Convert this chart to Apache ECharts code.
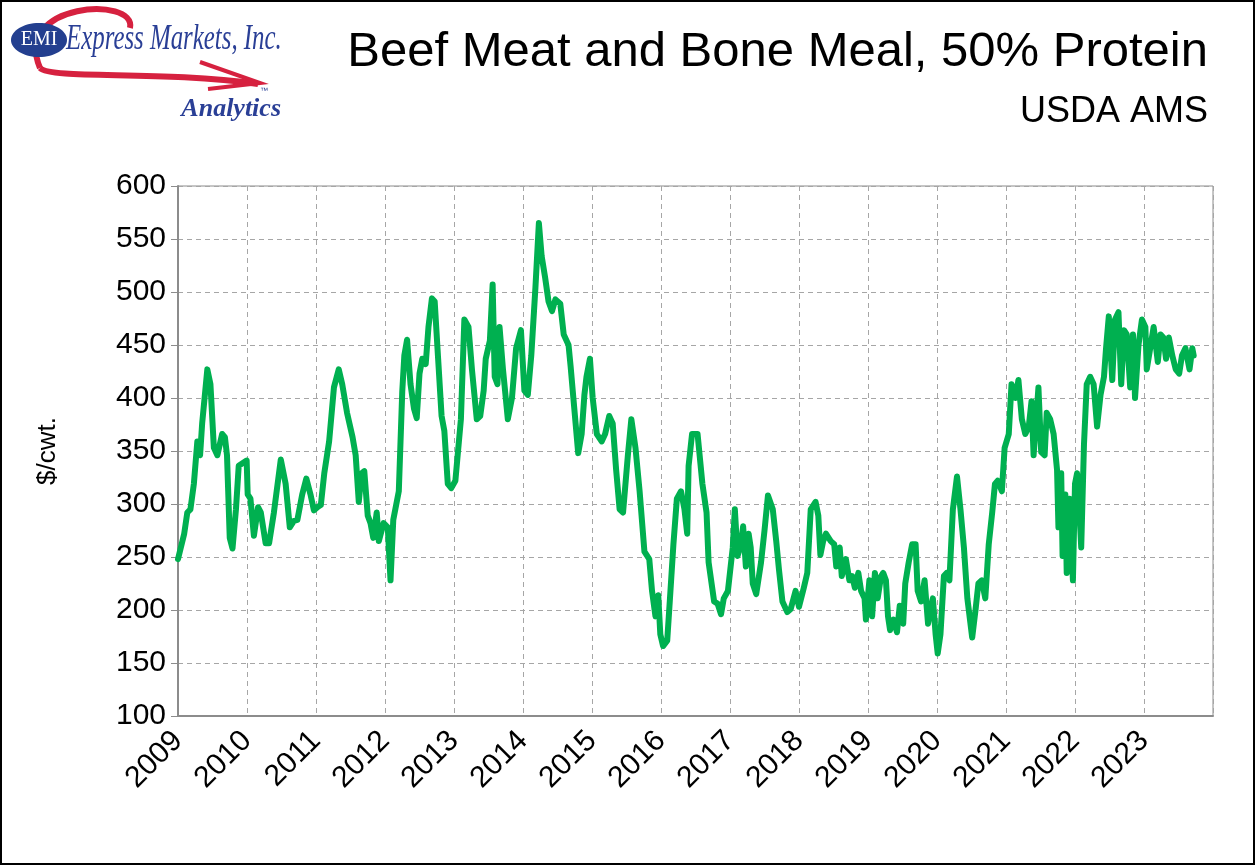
<!DOCTYPE html>
<html>
<head>
<meta charset="utf-8">
<title>Beef Meat and Bone Meal, 50% Protein</title>
<script src="https://cdn.jsdelivr.net/npm/echarts@6/dist/echarts.min.js"></script>
<style>
    html, body { margin: 0; padding: 0; background: #fff; }
    #main { width: 1255px; height: 865px; box-sizing: border-box; border: 2px solid #000; }
</style>
</head>
<body>
<div id="main"></div>
<script type="text/javascript">
    // weekly price, as decimal year
    var dates = [
        2009.00, 2009.09, 2009.135, 2009.18, 2009.23, 2009.28, 2009.32, 2009.35, 2009.425, 2009.47,
        2009.52, 2009.57, 2009.64, 2009.68, 2009.71, 2009.75, 2009.79, 2009.84, 2009.88, 2009.995,
        2010.01, 2010.05, 2010.10, 2010.16, 2010.20, 2010.27, 2010.32, 2010.39, 2010.49, 2010.56,
        2010.62, 2010.68, 2010.73, 2010.80, 2010.86, 2010.92, 2010.97, 2011.02, 2011.07, 2011.12,
        2011.19, 2011.26, 2011.33, 2011.38, 2011.45, 2011.53, 2011.575, 2011.62, 2011.66, 2011.70,
        2011.75, 2011.79, 2011.83, 2011.88, 2011.91, 2011.98, 2012.04, 2012.08, 2012.12, 2012.20,
        2012.25, 2012.28, 2012.32, 2012.37, 2012.42, 2012.46, 2012.50, 2012.54, 2012.59, 2012.63,
        2012.68, 2012.72, 2012.77, 2012.82, 2012.86, 2012.91, 2012.96, 2013.02, 2013.10, 2013.15,
        2013.21, 2013.26, 2013.33, 2013.38, 2013.43, 2013.46, 2013.52, 2013.56, 2013.59, 2013.63,
        2013.66, 2013.71, 2013.78, 2013.84, 2013.90, 2013.97, 2014.02, 2014.07, 2014.12, 2014.18,
        2014.23, 2014.27, 2014.32, 2014.37, 2014.42, 2014.47, 2014.54, 2014.59, 2014.66, 2014.69,
        2014.73, 2014.80, 2014.85, 2014.89, 2014.92, 2014.97, 2015.01, 2015.07, 2015.14, 2015.19,
        2015.25, 2015.30, 2015.35, 2015.40, 2015.45, 2015.52, 2015.57, 2015.63, 2015.69, 2015.76,
        2015.83, 2015.87, 2015.92, 2015.96, 2015.99, 2016.03, 2016.09, 2016.13, 2016.18, 2016.23,
        2016.29, 2016.34, 2016.38, 2016.40, 2016.45, 2016.53, 2016.60, 2016.66, 2016.69, 2016.77,
        2016.82, 2016.87, 2016.91, 2016.97, 2017.04, 2017.07, 2017.11, 2017.16, 2017.19, 2017.23,
        2017.27, 2017.30, 2017.33, 2017.38, 2017.45, 2017.50, 2017.55, 2017.62, 2017.67, 2017.71,
        2017.76, 2017.83, 2017.88, 2017.95, 2018.00, 2018.07, 2018.12, 2018.17, 2018.24, 2018.28,
        2018.31, 2018.35, 2018.39, 2018.46, 2018.51, 2018.54, 2018.59, 2018.62, 2018.68, 2018.73,
        2018.77, 2018.81, 2018.86, 2018.90, 2018.95, 2018.97, 2019.02, 2019.06, 2019.10, 2019.14,
        2019.19, 2019.22, 2019.26, 2019.29, 2019.32, 2019.37, 2019.42, 2019.46, 2019.51, 2019.54,
        2019.59, 2019.64, 2019.69, 2019.72, 2019.77, 2019.82, 2019.87, 2019.90, 2019.94, 2019.98,
        2020.01, 2020.05, 2020.10, 2020.14, 2020.18, 2020.23, 2020.29, 2020.34, 2020.39, 2020.44,
        2020.51, 2020.56, 2020.60, 2020.65, 2020.70, 2020.75, 2020.80, 2020.84, 2020.88, 2020.94,
        2020.98, 2021.04, 2021.08, 2021.14, 2021.18, 2021.23, 2021.28, 2021.33, 2021.37, 2021.40,
        2021.43, 2021.47, 2021.51, 2021.56, 2021.59, 2021.64, 2021.69, 2021.74, 2021.76, 2021.80,
        2021.82, 2021.86, 2021.88, 2021.92, 2021.97, 2022.00, 2022.03, 2022.06, 2022.09, 2022.13,
        2022.17, 2022.22, 2022.27, 2022.32, 2022.37, 2022.42, 2022.45, 2022.49, 2022.54, 2022.58,
        2022.63, 2022.67, 2022.71, 2022.75, 2022.80, 2022.84, 2022.87, 2022.92, 2022.97, 2023.02,
        2023.04, 2023.09, 2023.14, 2023.20, 2023.24, 2023.28, 2023.32, 2023.36, 2023.41, 2023.46,
        2023.51, 2023.55, 2023.60, 2023.66, 2023.70, 2023.72
    ];
    var prices = [
        248, 272, 292, 295, 319, 359, 346, 376, 427, 413,
        353, 346, 366, 363, 346, 268, 258, 295, 336, 341,
        309, 305, 270, 297, 292, 263, 263, 292, 342, 319,
        278, 284, 285, 309, 324, 309, 294, 297, 299, 329,
        359, 410, 427, 413, 386, 363, 346, 302, 329, 331,
        289, 282, 268, 292, 265, 282, 278, 228, 285, 312,
        406, 440, 455, 413, 390, 381, 423, 437, 432, 467,
        494, 491, 437, 383, 369, 319, 315, 322, 380, 474,
        467, 427, 380, 383, 407, 437, 454, 507, 420, 413,
        467, 427, 380, 400, 447, 464, 407, 403, 440, 504,
        565, 534, 514, 491, 482, 493, 489, 460, 450, 430,
        400, 348, 366, 403, 420, 437, 400, 366, 359, 366,
        383, 376, 332, 295, 292, 346, 380, 353, 312, 255,
        248, 218, 194, 214, 177, 166, 171, 211, 262, 305,
        312, 295, 272, 336, 366, 366, 319, 292, 245, 208,
        206, 196, 211, 218, 259, 295, 251, 262, 279, 241,
        272, 259, 225, 215, 245, 275, 308, 295, 265, 238,
        208, 198, 201, 218, 203, 221, 235, 295, 302, 289,
        252, 265, 272, 265, 262, 241, 259, 232, 248, 228,
        232, 221, 235, 218, 211, 191, 228, 194, 235, 211,
        232, 235, 228, 194, 181, 191, 179, 204, 187, 225,
        245, 262, 262, 218, 208, 228, 187, 198, 211, 177,
        159, 177, 232, 235, 228, 295, 326, 295, 259, 211,
        174, 201, 225, 228, 211, 262, 292, 319, 322, 312,
        353, 366, 413, 400, 417, 380, 366, 373, 397, 346,
        373, 410, 349, 346, 386, 380, 366, 332, 278, 329,
        251, 309, 235, 305, 228, 319, 329, 299, 259, 356,
        413, 420, 413, 373, 403, 420, 447, 477, 417, 474,
        481, 413, 464, 460, 410, 460, 400, 450, 474, 467,
        427, 447, 467, 434, 460, 457, 437, 457, 440, 427,
        423, 440, 447, 427, 447, 440
    ];
    var yearMin = 2009;
    var yearMax = 2024;

    var seriesData = dates.map(function (d, i) { return [d, prices[i]]; });

    var font = '"Liberation Sans", Arial, sans-serif';
    var myChart = echarts.init(document.getElementById('main'));

    var option = {
        animation: false,
        backgroundColor: '#fff',
        title: [{
            text: 'Beef Meat and Bone Meal, 50% Protein',
            right: 40,
            top: 21,
            textStyle: { fontFamily: font, fontSize: 49, fontWeight: 'normal', color: '#000' }
        }, {
            text: 'USDA AMS',
            right: 40,
            top: 87,
            textStyle: { fontFamily: font, fontSize: 36, fontWeight: 'normal', color: '#000' }
        }],
        grid: {
            left: 176,
            top: 184,
            width: 1035,
            height: 530,
            show: true,
            borderColor: '#8c8c8c',
            borderWidth: 1
        },
        xAxis: {
            type: 'value',
            min: yearMin,
            max: yearMax,
            interval: 1,
            axisLine: { show: true, lineStyle: { color: '#8c8c8c', width: 2 } },
            axisTick: { show: false },
            axisLabel: {
                rotate: 45,
                margin: 20,
                fontFamily: font,
                fontSize: 30,
                color: '#000',
                formatter: function (v) { return v >= yearMax ? '' : String(v); }
            },
            splitLine: { show: true, lineStyle: { color: '#a6a6a6', type: [5, 4], width: 1 } }
        },
        yAxis: {
            type: 'value',
            min: 100,
            max: 600,
            interval: 50,
            name: '$/cwt.',
            nameLocation: 'middle',
            nameGap: 117,
            nameRotate: 90,
            nameTextStyle: { fontFamily: font, fontSize: 26, color: '#000' },
            axisLine: { show: true, lineStyle: { color: '#8c8c8c', width: 2 } },
            axisTick: { show: true, length: 7, lineStyle: { color: '#8c8c8c' } },
            axisLabel: { margin: 12, fontFamily: font, fontSize: 30, color: '#000' },
            splitLine: { show: true, lineStyle: { color: '#a6a6a6', type: [5, 4], width: 1 } }
        },
        series: [{
            name: 'Beef MBM 50%',
            type: 'line',
            data: seriesData,
            showSymbol: false,
            smooth: false,
            lineStyle: { color: '#00b050', width: 6, join: 'round', cap: 'round' },
            itemStyle: { color: '#00b050' }
        }],
        // EMI logo
        graphic: [{
            type: 'bezierCurve',
            shape: { x1: 128, y1: 26, x2: 38, y2: 66, cpx1: 135, cpy1: -6, cpx2: 10, cpy2: 0 },
            style: { stroke: '#d6213f', lineWidth: 6, fill: null }
        }, {
            type: 'bezierCurve',
            shape: { x1: 38, y1: 66, x2: 256, y2: 82, cpx1: 50, cpy1: 78, cpx2: 160, cpy2: 68 },
            style: { stroke: '#d6213f', lineWidth: 6, fill: null }
        }, {
            type: 'polyline',
            shape: { points: [[198, 60], [258, 81], [206, 87]] },
            style: { stroke: '#d6213f', lineWidth: 4, fill: null }
        }, {
            type: 'ellipse',
            shape: { cx: 37, cy: 38, rx: 28, ry: 17 },
            style: { fill: '#233f8f' }
        }, {
            type: 'text',
            x: 37, y: 38,
            style: {
                text: 'EMI', fill: '#fff', font: '20px "Liberation Serif", serif',
                align: 'center', verticalAlign: 'middle'
            }
        }, {
            type: 'text',
            x: 64, y: 38,
            scaleX: 0.71,
            style: {
                text: 'Express Markets, Inc.', fill: '#2a3f96',
                font: 'italic 35px "Liberation Serif", serif',
                verticalAlign: 'middle'
            }
        }, {
            type: 'text',
            x: 279, y: 107,
            style: {
                text: 'Analytics', fill: '#2a3f96',
                font: 'italic bold 26px "Liberation Serif", serif',
                align: 'right', verticalAlign: 'middle'
            }
        }, {
            type: 'text',
            x: 262, y: 89,
            style: { text: '™', fill: '#2a3f96', font: '8px "Liberation Sans", sans-serif', align: 'center', verticalAlign: 'middle' }
        }]
    };
    myChart.setOption(option);
</script>
</body>
</html>
